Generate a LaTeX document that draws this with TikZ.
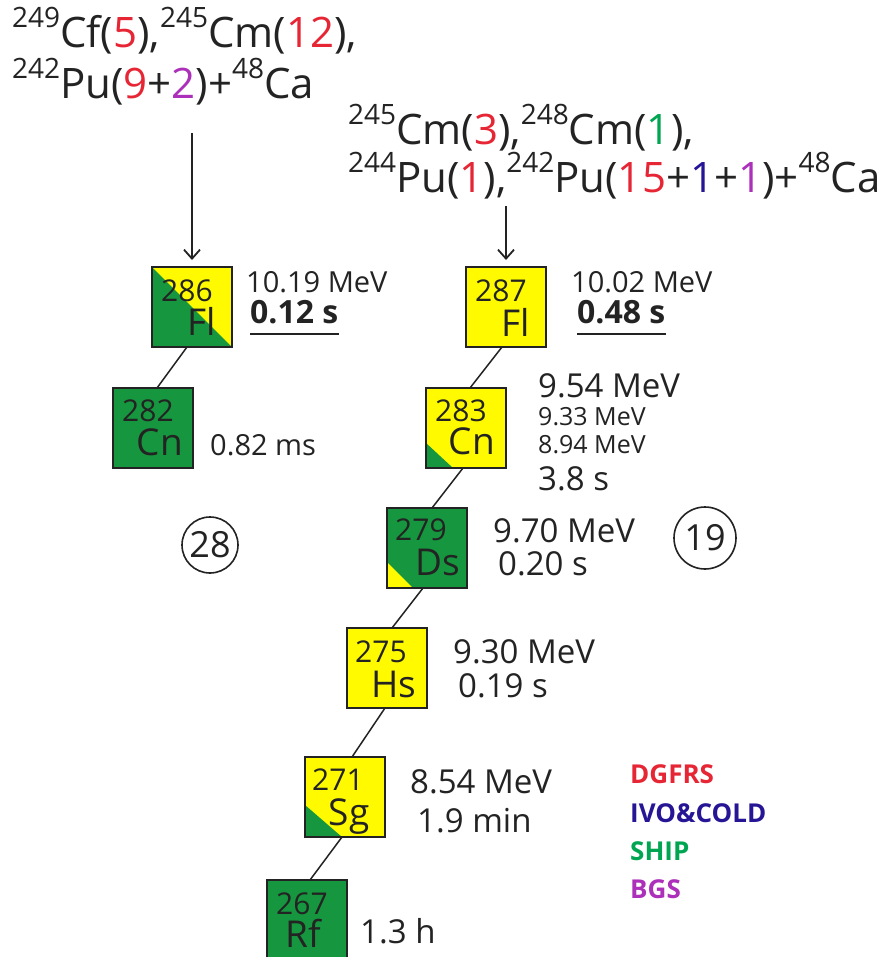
\documentclass[tikz,border=0pt]{standalone}
\usepackage{fontspec}
\setmainfont{Open Sans}
\usetikzlibrary{arrows.meta}
\definecolor{grn}{RGB}{22,150,62}
\definecolor{yel}{RGB}{255,250,0}
\definecolor{tred}{RGB}{230,38,52}
\definecolor{tblue}{RGB}{38,22,150}
\definecolor{tgreen}{RGB}{0,165,82}
\definecolor{tpurple}{RGB}{172,48,185}
\definecolor{ink}{RGB}{35,35,35}
\newcommand\fs[1]{\fontsize{#1bp}{#1bp}\selectfont}
\newcommand\iso[1]{\raisebox{20bp}{\fs{28}#1}}
\begin{document}
\begin{tikzpicture}[x=1bp,y=-1bp,
  box/.style={draw=ink, line width=1.8bp, minimum width=80bp, minimum height=80bp, inner sep=0, outer sep=0},
  boxline/.style={draw=ink, line width=1.8bp},
  num/.style={anchor=base west, inner sep=0, font=\fs{30}, text=ink},
  elem/.style={anchor=base, inner sep=0, font=\fs{37}, text=ink},
  lbl/.style={anchor=base west, inner sep=0, font=\fs{33}, text=ink},
  mlbl/.style={anchor=base west, inner sep=0, font=\fs{29}, text=ink},
  blbl/.style={anchor=base west, inner sep=0, font=\fs{32}\bfseries, text=ink},
  small/.style={anchor=base west, inner sep=0, font=\fs{25}, text=ink},
  reac/.style={anchor=base west, inner sep=0, font=\fs{42}, text=ink},
  leg/.style={anchor=base west, inner sep=0, font=\fs{26}\bfseries},
  ring/.style={circle, draw=ink, line width=1.6bp, inner sep=0, font=\fs{36}, text=ink},
  conn/.style={draw=ink, line width=1.5bp},
  uline/.style={draw=ink, line width=2bp},
  arr/.style={draw=ink, line width=1.8bp, -{Straight Barb[length=9bp,width=16bp,line width=1.8bp]}}
]
\clip (0,0) rectangle (883,957);
\fill[white] (0,0) rectangle (883,957);

% reaction texts
\node[reac] (r1a) at (12,47) {\iso{249}Cf(\textcolor{tred}{5}),\iso{245}Cm(\textcolor{tred}{12}),};
\node[reac] (r1b) at (12,98) {\iso{242}Pu(\textcolor{tred}{9}+\textcolor{tpurple}{2})+\iso{48}Ca};
\node[reac] (r2a) at (348,144) {\iso{245}Cm(\textcolor{tred}{3}),\iso{248}Cm(\textcolor{tgreen}{1}),};
\node[reac] (r2b) at (348,192) {\iso{244}Pu(\textcolor{tred}{1}),\iso{242}Pu(\textcolor{tred}{15}+\textcolor{tblue}{1}+\textcolor{tpurple}{1})+\iso{48}Ca};

% boxes
\node[box, fill=yel] (b286) at (192,307) {};
\fill[grn] (b286.north west) -- (b286.south east) -- (b286.south west) -- cycle;
\draw[boxline] (b286.north west) rectangle (b286.south east);

\node[box, fill=yel] (b287) at (506,307) {};

\node[box, fill=grn] (b282) at (153,428) {};

\node[box, fill=yel] (b283) at (466,428) {};
\fill[grn] ([yshift=25bp]b283.south west) -- (b283.south west) -- ([xshift=27bp]b283.south west) -- cycle;
\draw[boxline] (b283.north west) rectangle (b283.south east);

\node[box, fill=grn] (b279) at (427,548) {};
\fill[yel] ([yshift=26bp]b279.south west) -- (b279.south west) -- ([xshift=26bp]b279.south west) -- cycle;
\draw[boxline] (b279.north west) rectangle (b279.south east);

\node[box, fill=yel] (b275) at (387,668) {};

\node[box, fill=yel] (b271) at (345,797) {};
\fill[grn] ([yshift=32bp]b271.south west) -- (b271.south west) -- ([xshift=37bp]b271.south west) -- cycle;
\draw[boxline] (b271.north west) rectangle (b271.south east);

\node[box, fill=grn] (b267) at (307,920) {};

% box texts
\node[num] (n286) at ([xshift=9bp,yshift=-34bp]b286.north west) {286};
\node[elem] (e286) at ([xshift=50bp,yshift=-68bp]b286.north west) {Fl};
\node[num] (n287) at ([xshift=9bp,yshift=-34bp]b287.north west) {287};
\node[elem] (e287) at ([xshift=50bp,yshift=-69bp]b287.north west) {Fl};
\node[num] (n282) at ([xshift=9bp,yshift=-33bp]b282.north west) {282};
\node[elem] (e282) at ([xshift=47bp,yshift=-67bp]b282.north west) {Cn};
\node[num] (n283) at ([xshift=9bp,yshift=-33bp]b283.north west) {283};
\node[elem] (e283) at ([xshift=46bp,yshift=-66bp]b283.north west) {Cn};
\node[num] (n279) at ([xshift=8bp,yshift=-32bp]b279.north west) {279};
\node[elem] (e279) at ([xshift=51bp,yshift=-67bp]b279.north west) {Ds};
\node[num] (n275) at ([xshift=8bp,yshift=-34bp]b275.north west) {275};
\node[elem] (e275) at ([xshift=47bp,yshift=-69bp]b275.north west) {Hs};
\node[num] (n271) at ([xshift=7bp,yshift=-33bp]b271.north west) {271};
\node[elem] (e271) at ([xshift=44bp,yshift=-68bp]b271.north west) {Sg};
\node[num] (n267) at ([xshift=9bp,yshift=-34bp]b267.north west) {267};
\node[elem] (e267) at ([xshift=36bp,yshift=-67bp]b267.north west) {Rf};

% arrows
\coordinate (aL) at (192,133);
\coordinate (aR) at (506,206);
\draw[arr, shorten >=7bp] (aL) -- (b286.north);
\draw[arr, shorten >=7bp] (aR) -- (b287.north);

% decay connectors
\draw[conn] ([xshift=-5bp]b286.south) -- ([xshift=4bp]b282.north);
\draw[conn] ([xshift=-4bp]b287.south) -- ([xshift=4bp]b283.north);
\draw[conn] ([xshift=-3bp]b283.south) -- ([xshift=5bp]b279.north);
\draw[conn] ([xshift=-4bp]b279.south) -- ([xshift=5bp]b275.north);
\draw[conn] ([xshift=-2bp]b275.south) -- ([xshift=7bp]b271.north);
\draw[conn] ([xshift=-3bp]b271.south) -- ([xshift=3bp]b267.north);

% labels
\node[mlbl] (m286) at (246,292) {10.19 MeV};
\node[blbl] (t286) at (250,323) {0.12 s};
\draw[uline] ([yshift=-11bp]t286.base west) -- ([yshift=-11bp]t286.base east);
\node[mlbl] (m287) at (571,292) {10.02 MeV};
\node[blbl] (t287) at (577,323) {0.48 s};
\draw[uline] ([yshift=-11bp]t287.base west) -- ([yshift=-11bp]t287.base east);
\node[mlbl] (t282) at (210,455) {0.82 ms};
\node[lbl] (m283a) at (538,397) {9.54 MeV};
\node[small] (m283b) at (538,425) {9.33 MeV};
\node[small] (m283c) at (538,453) {8.94 MeV};
\node[lbl] (t283) at (538,490) {3.8 s};
\node[lbl] (m279) at (493,542) {9.70 MeV};
\node[lbl] (t279) at (498,575) {0.20 s};
\node[lbl] (m275) at (453,663) {9.30 MeV};
\node[lbl] (t275) at (458,697) {0.19 s};
\node[lbl] (m271) at (410,793) {8.54 MeV};
\node[lbl] (t271) at (417,832) {1.9 min};
\node[lbl] (t267) at (360,943) {1.3 h};

% circles
\node[ring, minimum size=56bp] (c28) at (210,545) {28};
\node[ring, minimum size=62bp] (c19) at (705,538) {19};

% legend
\node[leg, text=tred] (l1) at (630,783) {DGFRS};
\node[leg, text=tblue] (l2) at (630,822) {IVO\&COLD};
\node[leg, text=tgreen] (l3) at (630,860) {SHIP};
\node[leg, text=tpurple] (l4) at (630,898) {BGS};
\end{tikzpicture}
\end{document}
